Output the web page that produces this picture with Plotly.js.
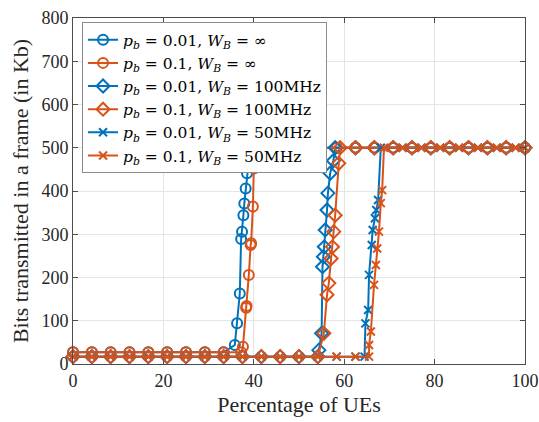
<!DOCTYPE html>
<html>
<head>
<meta charset="utf-8">
<script src="https://cdn.plot.ly/plotly-3.0.1.min.js"></script>
<style>html,body{margin:0;padding:0;background:#fff;}#plot{width:539px;height:422px;}</style>
</head>
<body>
<div id="plot"></div>
<script>
// Base grid of percentages (100/24 steps)
const baseInfX = [0, 4.17, 8.33, 12.5, 16.67, 20.83, 25, 29.17, 33.33];
const base100X = [0, 4.17, 8.33, 12.5, 16.67, 20.83, 25, 29.17, 33.33, 37.5, 41.67, 45.83, 50, 54.17];
const base50X = [0, 4.17, 8.33, 12.5, 16.67, 20.83, 25, 29.17, 33.33, 37.5, 41.67, 45.83, 50, 54.17, 58.33, 62.5];
const topInfX = [41.67, 45.83, 50, 54.17, 58.33, 62.5, 66.67, 70.83, 75, 79.17, 83.33, 87.5, 91.67, 95.83, 100];
const top100X = [62.5, 66.67, 70.83, 75, 79.17, 83.33, 87.5, 91.67, 95.83, 100];
const top50X = [72.92, 77.08, 81.25, 85.42, 89.58, 93.75, 97.92, 100];
const baseInfVal = 27;
const baseLowVal = 17;
const topVal = 500;

// Transition points
const rInf001X = [35.8, 36.3, 36.9, 37.2, 37.4, 37.7, 37.9, 38.2, 38.5, 38.9, 39.2];
const rInf001Y = [44, 94, 163, 289, 306, 344, 371, 406, 441, 470, 500];
const rInf01X = [37.2, 37.6, 38.3, 38.4, 38.9, 39.3, 39.4, 39.8, 40.0, 40.3];
const rInf01Y = [27, 40, 130, 134, 206, 275, 279, 364, 452, 500];
const r100_001X = [54.4, 55.0, 55.2, 55.4, 55.6, 55.8, 56.2, 56.4, 56.9, 57.6, 58.0];
const r100_001Y = [32, 71, 225, 248, 271, 310, 356, 395, 441, 470, 500];
const r100_01X = [55.5, 56.2, 56.6, 57.1, 57.4, 57.7, 58.0, 58.8, 59.1];
const r100_01Y = [71, 160, 187, 244, 271, 306, 344, 464, 500];
const r50_001X = [64.5, 64.7, 65.3, 65.5, 66.1, 66.3, 66.8, 67.1, 67.5, 68.1];
const r50_001Y = [17, 94, 125, 206, 275, 310, 337, 356, 379, 500];
const r50_01X = [65.5, 65.5, 65.9, 66.6, 67.0, 67.3, 67.7, 68.1, 68.4, 68.8];
const r50_01Y = [17, 44, 75, 183, 229, 267, 306, 372, 402, 500];

const names = [
  '<i>p</i><sub><i>b</i></sub> = 0.01, <i>W</i><sub><i>B</i></sub> = ∞',
  '<i>p</i><sub><i>b</i></sub> = 0.1, <i>W</i><sub><i>B</i></sub> = ∞',
  '<i>p</i><sub><i>b</i></sub> = 0.01, <i>W</i><sub><i>B</i></sub> = 100MHz',
  '<i>p</i><sub><i>b</i></sub> = 0.1, <i>W</i><sub><i>B</i></sub> = 100MHz',
  '<i>p</i><sub><i>b</i></sub> = 0.01, <i>W</i><sub><i>B</i></sub> = 50MHz',
  '<i>p</i><sub><i>b</i></sub> = 0.1, <i>W</i><sub><i>B</i></sub> = 50MHz'
];

const BLUE = '#0072BD', ORANGE = '#D95319';
function fill(n, v) { return new Array(n).fill(v); }
function series(bx, bv, rx, ry, tx) {
  return {
    x: bx.concat(rx, tx),
    y: fill(bx.length, bv).concat(ry, fill(tx.length, topVal))
  };
}
const S = [
  series(baseInfX, baseInfVal, rInf001X, rInf001Y, topInfX),
  series(baseInfX, baseInfVal, rInf01X, rInf01Y, topInfX),
  series(base100X, baseLowVal, r100_001X, r100_001Y, top100X),
  series(base100X, baseLowVal, r100_01X, r100_01Y, top100X),
  series(base50X, baseLowVal, r50_001X, r50_001Y, top50X),
  series(base50X, baseLowVal, r50_01X, r50_01Y, top50X)
];
const colors = [BLUE, ORANGE, BLUE, ORANGE, BLUE, ORANGE];
const symbols = ['circle-open', 'circle-open', 'diamond-open', 'diamond-open', 'x-thin-open', 'x-thin-open'];
const sizes = [10, 10, 10, 10, 8, 8];

const traces = S.map((s, i) => ({
  type: 'scatter', mode: 'lines+markers', cliponaxis: false,
  x: s.x, y: s.y, name: names[i],
  line: {color: colors[i], width: 2},
  marker: {symbol: symbols[i], size: sizes[i], color: colors[i], line: {color: colors[i], width: 2}}
}));

const SERIF = "'Liberation Serif', 'Times New Roman', serif";
const axisCommon = {
  showgrid: true, gridcolor: '#e5e5e5', gridwidth: 1,
  showline: true, linecolor: '#4d4d4d', linewidth: 1, mirror: 'ticks',
  ticks: 'inside', ticklen: 5, tickcolor: '#4d4d4d',
  zeroline: false,
  tickfont: {family: SERIF, size: 18, color: '#262626'}
};

const layout = {
  width: 539, height: 422,
  margin: {l: 73, r: 14, t: 18, b: 58},
  paper_bgcolor: '#fff', plot_bgcolor: '#fff',
  showlegend: true,
  xaxis: Object.assign({}, axisCommon, {
    range: [0, 100], tickvals: [0, 20, 40, 60, 80, 100],
    title: {text: 'Percentage of UEs', font: {family: SERIF, size: 22, color: '#262626'}, standoff: 7}
  }),
  yaxis: Object.assign({}, axisCommon, {
    range: [0, 800], tickvals: [0, 100, 200, 300, 400, 500, 600, 700, 800],
    title: {text: 'Bits transmitted in a frame (in Kb)', font: {family: SERIF, size: 22, color: '#262626'}, standoff: 6}
  }),
  legend: {
    x: 0.02, y: 0.988, xanchor: 'left', yanchor: 'top',
    bgcolor: '#fff', bordercolor: '#8c8c8c', borderwidth: 1,
    font: {family: "'DejaVu Serif', serif", size: 15.5, color: '#000'},
    tracegroupgap: 0
  }
};

Plotly.newPlot('plot', traces, layout, {displayModeBar: false, staticPlot: true});
</script>
</body>
</html>
